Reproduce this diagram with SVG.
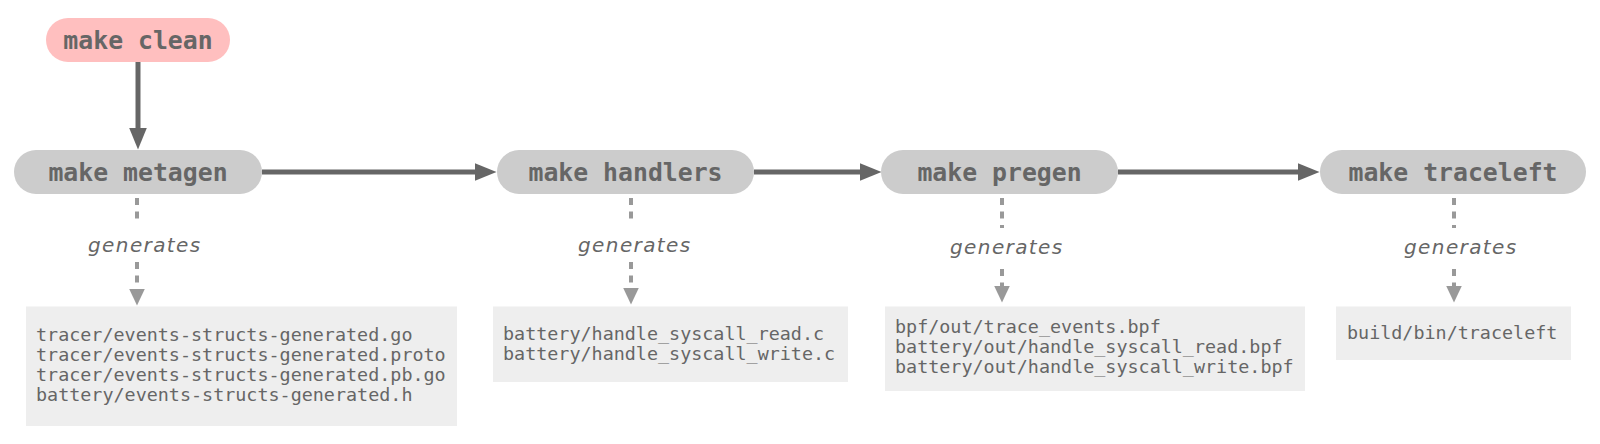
<svg xmlns="http://www.w3.org/2000/svg" width="1600" height="444" viewBox="0 0 1600 444">
<defs>
<style>
.pill{fill:#cccccc}
.clean{fill:#ffbfbf}
.box{fill:#eeeeee}
.ptxt{font-family:"DejaVu Sans Mono","Liberation Mono",monospace;font-weight:bold;font-size:24.8px;fill:#666666;text-anchor:middle}
.ftxt{font-family:"DejaVu Sans Mono","Liberation Mono",monospace;font-size:18.4px;fill:#666666}
.gen{font-family:"DejaVu Sans","Open Sans",sans-serif;font-style:italic;font-weight:300;font-size:20px;letter-spacing:1.4px;fill:#666666}
.flow{stroke:#666666;stroke-width:5;fill:none}
.dash{stroke:#999999;stroke-width:4;fill:none;stroke-dasharray:7 6.5}
</style>
<marker id="big" markerUnits="userSpaceOnUse" markerWidth="22" markerHeight="18" refX="0.5" refY="9" orient="auto">
<path d="M0,0 L22,9 L0,18 Z" fill="#666666"/>
</marker>
<marker id="small" markerUnits="userSpaceOnUse" markerWidth="17" markerHeight="16" refX="0.5" refY="8" orient="auto">
<path d="M0,0 L17,8 L0,16 Z" fill="#999999"/>
</marker>
</defs>
<rect width="1600" height="444" fill="#ffffff"/>
<g id="connectors">
<path class="flow" d="M138,62 V128" marker-end="url(#big)"/>
<path class="flow" d="M262,172 H475" marker-end="url(#big)"/>
<path class="flow" d="M754,172 H860" marker-end="url(#big)"/>
<path class="flow" d="M1118,172 H1298" marker-end="url(#big)"/>
<path class="dash" d="M137,198 V222"/>
<path class="dash" d="M137,262 V289" marker-end="url(#small)"/>
<path class="dash" d="M631,198 V220"/>
<path class="dash" d="M631,262 V288" marker-end="url(#small)"/>
<path class="dash" d="M1002,198 V228"/>
<path class="dash" d="M1002,269 V286" marker-end="url(#small)"/>
<path class="dash" d="M1454,198 V228"/>
<path class="dash" d="M1454,269 V286" marker-end="url(#small)"/>
<text class="gen" x="88" y="252">generates</text>
<text class="gen" x="578" y="252">generates</text>
<text class="gen" x="950" y="254">generates</text>
<text class="gen" x="1404" y="254">generates</text>
</g>
<g id="make-clean">
<rect class="clean" x="46" y="18" width="184" height="44" rx="22"/>
<text class="ptxt" x="138" y="49">make clean</text>
</g>
<g id="make-metagen">
<rect class="pill" x="14" y="150" width="248" height="44" rx="22"/>
<text class="ptxt" x="138" y="181">make metagen</text>
</g>
<g id="make-handlers">
<rect class="pill" x="497" y="150" width="257" height="44" rx="22"/>
<text class="ptxt" x="625.5" y="181">make handlers</text>
</g>
<g id="make-pregen">
<rect class="pill" x="881" y="150" width="237" height="44" rx="22"/>
<text class="ptxt" x="999.5" y="181">make pregen</text>
</g>
<g id="make-traceleft">
<rect class="pill" x="1320" y="150" width="266" height="44" rx="22"/>
<text class="ptxt" x="1453" y="181">make traceleft</text>
</g>
<g id="metagen-files">
<rect class="box" x="26" y="306.5" width="431" height="119.5"/>
<text class="ftxt" x="36" y="340.7">tracer/events-structs-generated.go</text>
<text class="ftxt" x="36" y="360.7">tracer/events-structs-generated.proto</text>
<text class="ftxt" x="36" y="380.7">tracer/events-structs-generated.pb.go</text>
<text class="ftxt" x="36" y="400.7">battery/events-structs-generated.h</text>
</g>
<g id="handlers-files">
<rect class="box" x="493" y="306.5" width="355" height="75.5"/>
<text class="ftxt" x="503" y="340.3">battery/handle_syscall_read.c</text>
<text class="ftxt" x="503" y="360.3">battery/handle_syscall_write.c</text>
</g>
<g id="pregen-files">
<rect class="box" x="885" y="306.5" width="420" height="84.5"/>
<text class="ftxt" x="895" y="333.3">bpf/out/trace_events.bpf</text>
<text class="ftxt" x="895" y="353.3">battery/out/handle_syscall_read.bpf</text>
<text class="ftxt" x="895" y="373.3">battery/out/handle_syscall_write.bpf</text>
</g>
<g id="traceleft-files">
<rect class="box" x="1336" y="306.5" width="235" height="53.5"/>
<text class="ftxt" x="1347" y="339.3">build/bin/traceleft</text>
</g>
</svg>
